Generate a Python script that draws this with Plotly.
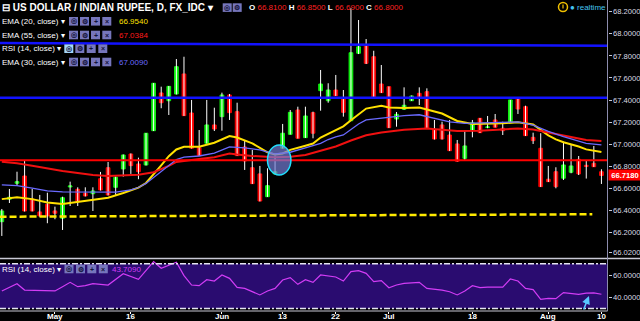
import plotly.graph_objects as go
import pandas as pd

W, H = 640, 321

# ---------------- data ----------------
dates = [d.strftime("%Y-%m-%d") for d in pd.bdate_range("2016-04-21", "2016-08-10")]

opens = [66.300, 66.503, 66.647, 66.713, 66.505, 66.388, 66.458, 66.397, 66.331, 66.614,
         66.593, 66.557, 66.553, 66.689, 66.788, 66.611, 66.777, 66.912, 66.822, 66.813,
         67.123, 67.464, 67.394, 67.455, 67.636, 67.283, 66.969, 67.009, 67.175, 67.250,
         67.446, 67.295, 66.976, 66.788, 66.732, 66.526, 66.732, 66.964, 67.090, 67.310,
         67.060, 67.286, 67.485, 67.394, 67.491, 67.421, 67.213, 67.823, 67.898, 67.792,
         67.545, 67.521, 67.229, 67.316, 67.394, 67.461, 67.476, 67.129, 67.175, 67.084,
         67.003, 66.873, 67.129, 67.235, 67.152, 67.220, 67.145, 67.195, 67.410, 67.340,
         67.063, 66.964, 66.684, 66.752, 66.693, 66.747, 66.864, 66.810, 66.828, 66.752]
highs = [66.415, 66.596, 66.752, 66.849, 66.596, 66.542, 66.562, 66.436, 66.526, 66.662,
         66.611, 66.611, 66.611, 66.750, 66.840, 66.709, 66.908, 66.917, 66.879, 67.102,
         67.554, 67.521, 67.527, 67.771, 67.792, 67.401, 67.129, 67.401, 67.331, 67.467,
         67.455, 67.376, 67.033, 66.949, 66.804, 66.783, 66.897, 67.184, 67.310, 67.340,
         67.340, 67.295, 67.672, 67.552, 67.627, 67.491, 68.230, 68.124, 67.952, 67.846,
         67.717, 67.523, 67.292, 67.515, 67.441, 67.515, 67.506, 67.220, 67.204, 67.220,
         67.039, 67.129, 67.220, 67.238, 67.256, 67.274, 67.204, 67.401, 67.414, 67.349,
         67.105, 67.100, 66.804, 66.792, 67.024, 66.994, 66.894, 66.850, 66.985, 66.774]
lows = [66.171, 66.469, 66.623, 66.392, 66.393, 66.345, 66.286, 66.322, 66.225, 66.442,
        66.442, 66.528, 66.397, 66.582, 66.537, 66.542, 66.707, 66.732, 66.684, 66.808,
        67.120, 67.326, 67.265, 67.450, 67.256, 66.962, 66.894, 67.007, 67.120, 67.123,
        67.220, 66.894, 66.768, 66.641, 66.483, 66.524, 66.728, 66.962, 67.088, 67.052,
        67.057, 67.054, 67.304, 67.376, 67.437, 67.250, 67.211, 67.816, 67.726, 67.419,
        67.464, 67.147, 67.159, 67.314, 67.392, 67.355, 67.143, 67.043, 67.043, 66.939,
        66.844, 66.858, 67.063, 67.102, 67.145, 67.152, 67.084, 67.193, 67.274, 67.075,
        67.003, 66.614, 66.659, 66.602, 66.677, 66.738, 66.722, 66.690, 66.795, 66.641]
closes = [66.397, 66.521, 66.662, 66.397, 66.397, 66.352, 66.352, 66.376, 66.517, 66.623,
          66.487, 66.533, 66.578, 66.587, 66.542, 66.702, 66.903, 66.807, 66.752, 67.100,
          67.552, 67.376, 67.524, 67.702, 67.259, 66.964, 66.897, 67.175, 67.138, 67.446,
          67.286, 66.897, 66.849, 66.644, 66.487, 66.626, 66.752, 67.100, 67.289, 67.054,
          67.256, 67.100, 67.545, 67.491, 67.439, 67.289, 67.828, 67.882, 67.732, 67.421,
          67.467, 67.150, 67.271, 67.353, 67.437, 67.421, 67.145, 67.048, 67.048, 66.942,
          66.846, 66.985, 67.195, 67.105, 67.157, 67.154, 67.123, 67.401, 67.319, 67.078,
          67.033, 66.617, 66.662, 66.617, 66.813, 66.804, 66.732, 66.800, 66.797, 66.718]

ema20_idx = [0, 2, 4, 6, 8, 10, 12, 14, 16, 18, 19, 20, 21, 22, 23, 24, 26, 28, 29, 30,
             31, 33, 35, 36, 37, 38, 40, 41, 42, 43, 44, 45, 46, 47, 48, 50, 51, 53, 55, 56,
             58, 60, 62, 66, 68, 70, 71, 72, 73, 74, 76, 77, 79]
ema20_val = [66.504, 66.521, 66.504, 66.474, 66.460, 66.478, 66.495, 66.517, 66.560, 66.608,
             66.650, 66.725, 66.810, 66.892, 66.953, 66.978, 66.978, 67.014, 67.048, 67.075,
             67.061, 67.009, 66.928, 66.908, 66.917, 66.950, 66.987, 67.007, 67.061, 67.096,
             67.129, 67.162, 67.218, 67.274, 67.323, 67.348, 67.333, 67.329, 67.333, 67.315,
             67.278, 67.211, 67.184, 67.190, 67.200, 67.179, 67.129, 67.081, 67.045, 67.018,
             66.980, 66.954, 66.931]

ema30_idx = [0, 2, 4, 6, 8, 12, 15, 17, 18, 19, 20, 21, 22, 23, 24, 26, 28, 30, 32, 34,
             36, 38, 40, 42, 43, 44, 45, 46, 47, 48, 50, 53, 55, 57, 59, 61, 65, 68, 70, 72,
             74, 76, 77, 79]
ema30_val = [66.632, 66.626, 66.603, 66.578, 66.569, 66.566, 66.567, 66.587, 66.609, 66.646,
             66.700, 66.761, 66.813, 66.862, 66.883, 66.894, 66.921, 66.977, 66.968, 66.949,
             66.912, 66.928, 66.967, 67.009, 67.043, 67.068, 67.084, 67.138, 67.184, 67.220,
             67.235, 67.259, 67.267, 67.233, 67.202, 67.190, 67.194, 67.203, 67.174, 67.116,
             67.070, 67.030, 67.009, 66.995]

ema55_idx = [0, 2, 4, 6, 8, 10, 12, 14, 16, 18, 20, 21, 22, 23, 24, 26, 28, 30, 31, 33,
             36, 38, 40, 42, 44, 46, 48, 50, 53, 56, 58, 60, 63, 66, 68, 70, 72, 74, 76, 77, 79]
ema55_val = [66.842, 66.828, 66.806, 66.781, 66.759, 66.741, 66.722, 66.713, 66.716, 66.725,
             66.747, 66.772, 66.804, 66.840, 66.851, 66.867, 66.883, 66.917, 66.908, 66.894,
             66.883, 66.887, 66.903, 66.939, 66.980, 67.034, 67.081, 67.107, 67.132, 67.142,
             67.131, 67.120, 67.123, 67.137, 67.143, 67.134, 67.107, 67.080, 67.057, 67.038,
             67.030]

rsi_idx = [0, 2, 3, 5, 7, 8, 9, 10, 11, 12, 14, 16, 18, 20, 21, 23, 24, 25, 26, 27,
           28, 29, 30, 31, 32, 34, 35, 36, 37, 38, 39, 40, 41, 42, 43, 44, 45, 46, 47, 48,
           49, 50, 51, 52, 53, 55, 56, 58, 59, 60, 61, 62, 63, 64, 66, 67, 68, 69, 70, 71,
           72, 73, 74, 75, 76, 77, 78, 79]
rsi_val = [45.7, 52.2, 46.5, 45.9, 45.7, 49.5, 53.4, 49.5, 50.4, 52.2, 51.0, 61.2, 56.1, 72.0,
           66.0, 71.4, 59.4, 51.0, 50.4, 55.8, 54.6, 60.0, 57.0, 48.9, 48.0, 42.1, 45.7, 48.0,
           55.5, 57.6, 51.6, 55.8, 53.4, 60.0, 59.4, 58.2, 54.6, 63.0, 63.9, 61.5, 54.0, 54.9,
           48.6, 51.0, 52.5, 53.4, 48.0, 46.5, 45.0, 42.1, 45.7, 50.4, 48.6, 49.2, 49.2, 56.4,
           54.6, 48.0, 46.9, 38.2, 39.1, 38.8, 44.2, 43.6, 42.7, 43.7, 43.9, 42.7]

tick_dates = ["2016-05-02", "2016-05-16", "2016-06-01", "2016-06-13", "2016-06-22",
              "2016-07-01", "2016-07-18", "2016-08-01", "2016-08-10"]
tick_text = ["May", "16", "Jun", "13", "22", "Jul", "18", "Aug", "10"]
price_ticks = [66.02, 66.2, 66.4, 66.6, 66.8, 67.0, 67.2, 67.4, 67.6, 67.8, 68.0, 68.2]
rsi_ticks = [40, 60]

upper_trend = (67.916, 67.891)
resistance = 67.42
support = 66.855
dashed_support = (66.345, 66.367)
dashed_end_idx = 77.8
marked_zone = dict(x0=35.0, x1=38.09, y0=66.722, y1=66.994)
last_price = 66.718
hdr = dict(O="66.8100", H="66.8500", L="66.6900", C="66.8000")
ema20_last, ema55_last, ema30_last, rsi_last = "66.9540", "67.0384", "67.0090", "43.7090"

# ---------------- styling ----------------
GREEN = "#10f010"
RED = "#f80000"
FONT = "Liberation Sans"
XDOM = 607.5 / W
Y_SPLIT = 1 - 258.5 / H
Y_BOT = 1 - 311 / H


def px(x):
    return x / W


def py(y):
    return 1 - y / H


fig = go.Figure()

wx, wy = [], []
for d, hi, lo in zip(dates, highs, lows):
    wx += [d, d, None]
    wy += [hi, lo, None]
fig.add_trace(go.Scatter(x=wx, y=wy, mode="lines", line=dict(color="#ffffff", width=1),
                         hoverinfo="skip", connectgaps=False))
fig.add_trace(go.Candlestick(
    x=dates, open=opens, close=closes,
    high=[max(o, c) for o, c in zip(opens, closes)],
    low=[min(o, c) for o, c in zip(opens, closes)],
    increasing=dict(fillcolor=GREEN, line=dict(color=GREEN, width=1)),
    decreasing=dict(fillcolor=RED, line=dict(color=RED, width=1)),
    whiskerwidth=0, hoverinfo="skip"))

fig.add_trace(go.Scatter(x=[dates[i] for i in ema20_idx], y=ema20_val, mode="lines",
                         line=dict(color="#ffe100", width=2), hoverinfo="skip"))
fig.add_trace(go.Scatter(x=[dates[i] for i in ema55_idx], y=ema55_val, mode="lines",
                         line=dict(color="#f01010", width=2), hoverinfo="skip"))
fig.add_trace(go.Scatter(x=[dates[i] for i in ema30_idx], y=ema30_val, mode="lines",
                         line=dict(color="#6a6aff", width=1.3), hoverinfo="skip"))
fig.add_trace(go.Scatter(x=[dates[i] for i in rsi_idx], y=rsi_val, mode="lines", yaxis="y2",
                         line=dict(color="#d23cf5", width=1.2), hoverinfo="skip"))

shapes = []
# RSI band
shapes.append(dict(type="rect", xref="x domain", x0=0, x1=1, yref="y2", y0=30, y1=70,
                   fillcolor="#2a0c70", line=dict(width=0), layer="below"))
for lvl in (70, 30):
    shapes.append(dict(type="line", xref="x domain", x0=0, x1=1, yref="y2", y0=lvl, y1=lvl,
                       line=dict(color="#e4e4f0", width=1.5, dash="6px,2px,2px,2px")))
# drawings
shapes.append(dict(type="line", xref="x domain", x0=0, x1=1, yref="y",
                   y0=upper_trend[0], y1=upper_trend[1], line=dict(color="#1212ff", width=2.5)))
shapes.append(dict(type="line", xref="x domain", x0=0, x1=1, yref="y",
                   y0=resistance, y1=resistance, line=dict(color="#1212ff", width=2.5)))
shapes.append(dict(type="line", xref="x domain", x0=0, x1=1, yref="y",
                   y0=support, y1=support, line=dict(color="#ff0000", width=2)))
shapes.append(dict(type="line", xref="x", x0=-0.3, x1=dashed_end_idx, yref="y",
                   y0=dashed_support[0], y1=dashed_support[1],
                   line=dict(color="#ffea00", width=2.5, dash="7px,3px")))
shapes.append(dict(type="circle", xref="x", yref="y", **marked_zone,
                   fillcolor="rgba(115,125,215,0.7)", line=dict(color="#22e0ff", width=1.5)))
# pane frame
shapes.append(dict(type="line", xref="paper", yref="paper", x0=0, x1=1, y0=Y_SPLIT, y1=Y_SPLIT,
                   line=dict(color="#c8c8d4", width=1.5)))
shapes.append(dict(type="line", xref="paper", yref="paper", x0=0, x1=XDOM, y0=Y_BOT, y1=Y_BOT,
                   line=dict(color="#c8c8d4", width=1.2)))
shapes.append(dict(type="line", xref="paper", yref="paper", x0=XDOM, x1=XDOM, y0=Y_BOT, y1=1,
                   line=dict(color="#8c8cae", width=1)))
# clock icon
shapes.append(dict(type="circle", xref="paper", yref="paper", x0=px(558.5), x1=px(567.5),
                   y0=py(11.5), y1=py(2.5), line=dict(color="#f0c000", width=1.5)))
shapes.append(dict(type="line", xref="paper", yref="paper", x0=px(563), x1=px(563),
                   y0=py(4.5), y1=py(8.5), line=dict(color="#f0c000", width=1.2)))

annotations = []


def ann(text, x, y, size=8, color="white", bold=False, xanchor="left", **kw):
    annotations.append(dict(text=text, x=px(x), y=py(y), xref="paper", yref="paper",
                            xanchor=xanchor, yanchor="middle", showarrow=False,
                            font=dict(family=FONT, size=size, color=color,
                                      weight="bold" if bold else "normal"), **kw))


def icons(xs, y, first="#7676bc"):
    glyphs = ["◎", "⚙", "+", "×"]
    for k, x in enumerate(xs):
        shapes.append(dict(type="rect", xref="paper", yref="paper", x0=px(x), x1=px(x + 9),
                           y0=py(y + 4.3), y1=py(y - 4.3),
                           fillcolor=first if k == 0 else "#7676bc", line=dict(width=0)))
        ann(glyphs[k], x + 4.5, y, size=7, color="#12123a", bold=True, xanchor="center")


ann("⊟ US DOLLAR / INDIAN RUPEE, D, FX_IDC ▾", 0, 7.5, size=10, bold=True)
icons([222.7, 232.7], 7.6)
ann("<b>O</b> <span style='color:#ff2020'>%s</span> <b>H</b> <span style='color:#ff2020'>%s</span> "
    "<b>L</b> <span style='color:#ff2020'>%s</span> <b>C</b> <span style='color:#ff2020'>%s</span>"
    % (hdr["O"], hdr["H"], hdr["L"], hdr["C"]), 247, 7.8, size=8)
ann("● realtime", 568, 7.5, size=8, color="#45c4f2")

ann("EMA (20, close) ▾", 0, 21.3, size=8)
icons([69, 80, 91, 102.3], 21.3)
ann(ema20_last, 117, 21.3, size=8, color="#ffe100")
ann("EMA (55, close) ▾", 0, 35, size=8)
icons([69, 80, 91, 102.3], 35)
ann(ema55_last, 117, 35, size=8, color="#ff1a1a")
ann("RSI (14, close) ▾", 0, 48.7, size=8)
icons([64.3, 75.3, 86.7, 98.3], 48.7, first="#a4d6f8")
ann("EMA (30, close) ▾", 0, 62, size=8)
icons([69, 80, 91, 102.3], 62)
ann(ema30_last, 117, 62, size=8, color="#6a6aff")

ann("RSI (14, close) ▾", 0, 269, size=8)
icons([64.5, 76, 87.3, 98.8], 269)
ann(rsi_last, 110, 269, size=8, color="#d23cf5")

# x-axis date labels (placed just under the pane)
for d, t in zip(tick_dates, tick_text):
    annotations.append(dict(text=t, x=d, xref="x", y=py(316.3), yref="paper",
                            xanchor="center", yanchor="middle", showarrow=False,
                            font=dict(family=FONT, size=8, color="white", weight="bold")))

# last price label
annotations.append(dict(text=f"{last_price:.4f}", x=px(608), y=last_price, xref="paper", yref="y",
                        xanchor="left", yanchor="middle", showarrow=False, bgcolor="#ff0000",
                        width=30, height=8, borderpad=1,
                        font=dict(family=FONT, size=7.6, color="white", weight="bold")))
# little cyan cursor arrow
annotations.append(dict(text="", x=px(589), y=py(296), xref="paper", yref="paper",
                        ax=-6, ay=15, showarrow=True, arrowhead=2, arrowsize=1,
                        arrowwidth=1.6, arrowcolor="#5ac8ff"))

fig.update_layout(
    width=W, height=H, template="none",
    margin=dict(l=0, r=0, t=0, b=0),
    paper_bgcolor="black", plot_bgcolor="black",
    showlegend=False,
    xaxis=dict(type="category", categoryorder="array", categoryarray=dates,
               domain=[0, XDOM], range=[-0.24, 79.8], anchor="y2",
               tickvals=tick_dates, ticktext=tick_text, ticks="outside", ticklen=2,
               tickcolor="white", showticklabels=False,
               showgrid=False, zeroline=False, showline=False, automargin=False,
               rangeslider=dict(visible=False)),
    yaxis=dict(domain=[Y_SPLIT, 1], range=[65.967, 68.305], side="right", anchor="x",
               tickvals=price_ticks, ticktext=[f"{v:.4f}" for v in price_ticks],
               ticks="outside", ticklen=3, tickcolor="#c8c8d4",
               tickfont=dict(family=FONT, size=7.6, color="#dcdce4"),
               showgrid=False, zeroline=False, showline=False, automargin=False),
    yaxis2=dict(domain=[Y_BOT, Y_SPLIT], range=[27.7, 74.8], side="right", anchor="x",
                tickvals=rsi_ticks, ticktext=[f"{v:.4f}" for v in rsi_ticks],
                ticks="outside", ticklen=3, tickcolor="#c8c8d4",
                tickfont=dict(family=FONT, size=7.6, color="#dcdce4"),
                showgrid=False, zeroline=False, showline=False, automargin=False),
    shapes=shapes, annotations=annotations,
)

fig.write_html("out.html")
